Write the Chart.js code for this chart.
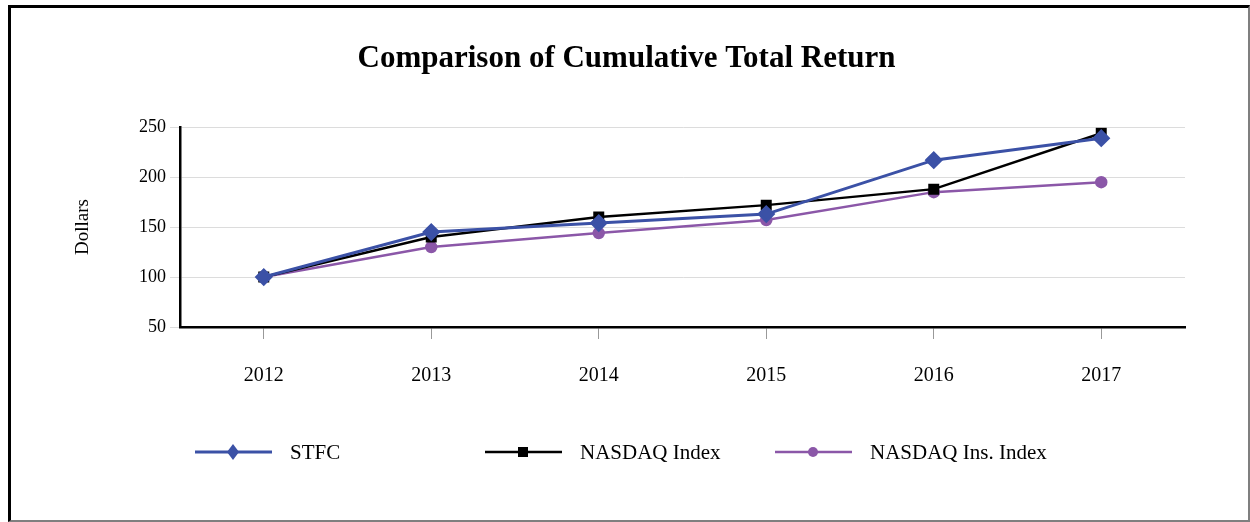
<!DOCTYPE html>
<html>
<head>
<meta charset="utf-8">
<title>Comparison of Cumulative Total Return</title>
<script src="https://cdn.jsdelivr.net/npm/chart.js@4.4.0/dist/chart.umd.min.js"></script>
<style>
    html, body { margin: 0; padding: 0; background: #fff; }
    #wrap { position: relative; width: 1250px; height: 522px; }
    #chart { position: absolute; left: 0; top: 0; }
    #frame {
        position: absolute; left: 8px; top: 5px; width: 1237px; height: 512px;
        border-top: 3px solid #000; border-left: 3px solid #000;
        border-right: 2px solid #7f7f7f; border-bottom: 2px solid #7f7f7f;
        pointer-events: none;
    }
</style>
</head>
<body>
<div id="wrap">
    <canvas id="chart" width="1250" height="522"></canvas>
    <div id="frame"></div>
</div>
<script>
// Data
const years = ['2012', '2013', '2014', '2015', '2016', '2017'];
const stfcValues = [100, 145, 154, 163, 217, 239];
const nasdaqValues = [100, 140, 160, 172, 188, 244];
const nasdaqInsValues = [100, 130, 144, 157, 185, 195];
const yTicks = [50, 100, 150, 200, 250];

const FONT = "'Liberation Serif', 'Times New Roman', serif";

function drawMarker(ctx, style, x, y, r) {
    ctx.beginPath();
    if (style === 'rectRot') {
        ctx.moveTo(x, y - r);
        ctx.lineTo(x + r * 0.75, y);
        ctx.lineTo(x, y + r);
        ctx.lineTo(x - r * 0.75, y);
        ctx.closePath();
    } else if (style === 'rect') {
        ctx.rect(x - r, y - r, r * 2, r * 2);
    } else {
        ctx.arc(x, y, r, 0, Math.PI * 2);
    }
    ctx.fill();
}

// Legend drawn in fixed columns under the x axis, like the original
const columnLegend = {
    id: 'columnLegend',
    afterDraw(chart) {
        const ctx = chart.ctx;
        const area = chart.chartArea;
        const y = 452;
        ctx.save();
        chart.data.datasets.forEach(function (ds, i) {
            const x0 = area.left + 15 + i * 290;
            ctx.strokeStyle = ds.borderColor;
            ctx.fillStyle = ds.borderColor;
            ctx.lineWidth = ds.borderWidth;
            ctx.beginPath();
            ctx.moveTo(x0, y);
            ctx.lineTo(x0 + 77, y);
            ctx.stroke();
            drawMarker(ctx, ds.pointStyle, x0 + 38, y, ds.legendMarker);
            ctx.fillStyle = '#000';
            ctx.font = '21px ' + FONT;
            ctx.textBaseline = 'middle';
            ctx.textAlign = 'left';
            ctx.fillText(ds.label, x0 + 95, y + 1);
        });
        ctx.restore();
    }
};

const ctx = document.getElementById('chart').getContext('2d');
new Chart(ctx, {
    type: 'line',
    data: {
        labels: years,
        datasets: [{
            label: 'STFC',
            data: stfcValues,
            borderColor: '#3b51a6',
            backgroundColor: '#3b51a6',
            borderWidth: 3,
            pointStyle: 'rectRot',
            pointRadius: 7,
            legendMarker: 8,
            tension: 0
        }, {
            label: 'NASDAQ Index',
            data: nasdaqValues,
            borderColor: '#000000',
            backgroundColor: '#000000',
            borderWidth: 2.5,
            pointStyle: 'rect',
            pointRadius: 6,
            legendMarker: 5,
            tension: 0
        }, {
            label: 'NASDAQ Ins. Index',
            data: nasdaqInsValues,
            borderColor: '#8b57a8',
            backgroundColor: '#8b57a8',
            borderWidth: 2.5,
            pointStyle: 'circle',
            pointRadius: 5,
            legendMarker: 5,
            tension: 0
        }]
    },
    options: {
        responsive: false,
        animation: false,
        layout: {
            padding: { left: 68, right: 65, top: 0, bottom: 135 }
        },
        plugins: {
            legend: { display: false },
            tooltip: { enabled: false },
            title: {
                display: true,
                text: 'Comparison of Cumulative Total Return',
                color: '#000',
                font: { family: FONT, size: 31, weight: 'bold' },
                padding: { top: 40, bottom: 50 }
            }
        },
        scales: {
            x: {
                offset: true,
                afterFit: function (scale) { scale.height = 60; },
                border: { display: true, color: '#000', width: 2.5 },
                grid: {
                    offset: false,
                    drawOnChartArea: false,
                    drawTicks: true,
                    tickLength: 12,
                    color: '#999'
                },
                ticks: {
                    color: '#000',
                    padding: 25,
                    font: { family: FONT, size: 20 }
                }
            },
            y: {
                min: 50,
                max: 250,
                afterFit: function (scale) { scale.width = 112; },
                afterBuildTicks: function (scale) {
                    scale.ticks = yTicks.map(v => ({ value: v }));
                },
                border: { display: true, color: '#000', width: 2.5 },
                grid: {
                    color: '#dcdcdc',
                    lineWidth: 1,
                    drawTicks: true,
                    tickLength: 10
                },
                ticks: {
                    color: '#000',
                    padding: 4,
                    font: { family: FONT, size: 18 }
                },
                title: {
                    display: true,
                    text: 'Dollars',
                    color: '#000',
                    font: { family: FONT, size: 19 },
                    padding: { top: 4, bottom: 0 }
                }
            }
        }
    },
    plugins: [columnLegend]
});
</script>
</body>
</html>
